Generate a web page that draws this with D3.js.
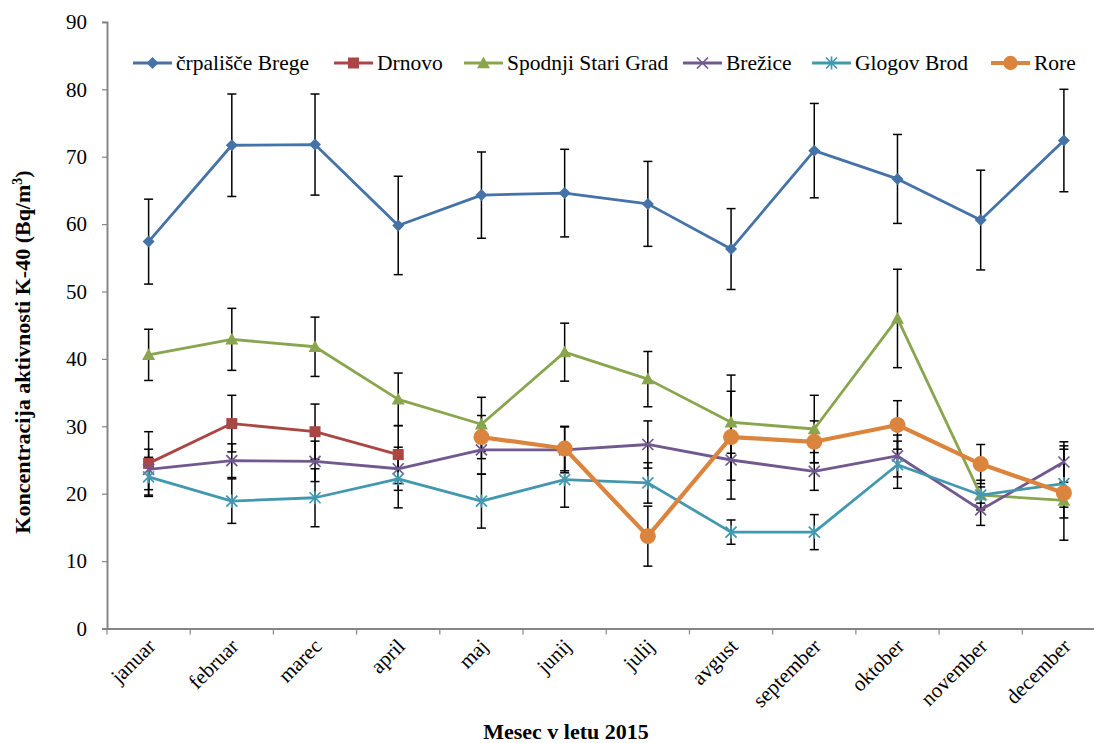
<!DOCTYPE html>
<html>
<head>
<meta charset="utf-8">
<script src="https://cdn.jsdelivr.net/npm/d3@7"></script>
<style>
  body { margin: 0; background: #fff; }
  svg { display: block; font-family: "Liberation Serif", "Times New Roman", serif; }
</style>
</head>
<body>
<svg id="chart" width="1094" height="743"></svg>
<script>
const months = ["januar","februar","marec","april","maj","junij","julij","avgust","september","oktober","november","december"];
const yTicks = [0,10,20,30,40,50,60,70,80,90];

const bregeVal = [57.4,71.7,71.8,59.8,64.3,64.6,63.0,56.3,70.9,66.7,60.6,72.4];
const bregeErr = [6.3,7.6,7.5,7.3,6.4,6.5,6.3,6.0,7.0,6.6,7.4,7.6];
const drnovoVal = [24.5,30.4,29.2,25.8,null,null,null,null,null,null,null,null];
const drnovoErr = [4.7,4.2,4.1,4.3,null,null,null,null,null,null,null,null];
const ssgVal = [40.6,42.9,41.8,34.0,30.3,41.0,37.0,30.6,29.6,46.0,19.8,19.0];
const ssgErr = [3.8,4.6,4.4,3.9,4.0,4.3,4.1,4.6,5.0,7.3,1.2,1.0];
const brezVal = [23.6,24.9,24.8,23.7,26.5,26.5,27.3,25.0,23.3,25.6,17.6,24.7];
const brezErr = [3.0,2.5,3.0,3.2,3.6,3.4,3.5,3.0,2.8,3.1,2.3,3.0];
const glogVal = [22.5,18.9,19.4,22.2,18.9,22.1,21.6,14.3,14.3,24.3,19.8,21.5];
const glogErr = [2.9,3.3,4.3,4.3,4.0,4.1,3.0,1.8,2.6,3.5,2.2,5.1];
const roreVal = [null,null,null,null,28.4,26.7,13.7,28.4,27.7,30.2,24.4,20.1];
const roreErr = [null,null,null,null,3.2,3.3,4.45,9.2,3.1,3.6,2.9,7.0];

const series = [
  {name:"črpališče Brege", vals:bregeVal, errs:bregeErr, color:"#4572A7", marker:"diamond", width:2.8},
  {name:"Drnovo", vals:drnovoVal, errs:drnovoErr, color:"#AA4643", marker:"square", width:2.8},
  {name:"Spodnji Stari Grad", vals:ssgVal, errs:ssgErr, color:"#89A54E", marker:"triangle", width:2.8},
  {name:"Brežice", vals:brezVal, errs:brezErr, color:"#71588F", marker:"x", width:2.8},
  {name:"Glogov Brod", vals:glogVal, errs:glogErr, color:"#4198AF", marker:"star", width:2.8},
  {name:"Rore", vals:roreVal, errs:roreErr, color:"#DB843D", marker:"circle", width:4.2}
];

const svg = d3.select("#chart");
const pLeft = 107, pRight = 1105.5, pTop = 21.9, pBottom = 628.5;
const x = d3.scaleBand().domain(months).range([pLeft, pRight]);
const y = d3.scaleLinear().domain([0, 90]).range([pBottom, pTop]);
const cx = m => x(m) + x.bandwidth() / 2;
const axisColor = "#868686";

// Y axis
const yAxis = svg.append("g").attr("transform", `translate(${pLeft},0)`)
  .call(d3.axisLeft(y).tickValues(yTicks).tickSize(5).tickPadding(15).tickFormat(d3.format("d")));
yAxis.select(".domain").attr("stroke", axisColor).attr("stroke-width", 2);
yAxis.selectAll(".tick line").attr("stroke", axisColor).attr("stroke-width", 1.2);
yAxis.selectAll(".tick text").attr("font-size", 21).attr("fill", "#000")
  .attr("font-family", "Liberation Serif");

// X axis
const xAxis = svg.append("g").attr("transform", `translate(0,${pBottom})`)
  .call(d3.axisBottom(x).tickSize(0).tickFormat(() => ""));
xAxis.select(".domain").attr("stroke", axisColor).attr("stroke-width", 2);
const bounds = months.map(m => x(m)).concat([x.range()[1]]);
xAxis.selectAll(".bound").data(bounds).enter().append("line")
  .attr("x1", d => d).attr("x2", d => d).attr("y1", 0).attr("y2", 6)
  .attr("stroke", axisColor).attr("stroke-width", 1.2);
svg.append("g").selectAll("text").data(months).enter().append("text")
  .attr("transform", d => `translate(${cx(d) + 8},${pBottom + 19}) rotate(-45)`)
  .attr("text-anchor", "end")
  .attr("font-size", 21)
  .text(d => d);

// Axis titles
svg.append("text").attr("x", 566).attr("y", 739).attr("text-anchor", "middle")
  .attr("font-size", 22).attr("font-weight", "bold").text("Mesec v letu 2015");
const yt = svg.append("text").attr("transform", "translate(30,352) rotate(-90)")
  .attr("text-anchor", "middle").attr("font-size", 22).attr("font-weight", "bold");
yt.append("tspan").text("Koncentracija aktivnosti K-40 (Bq/m");
yt.append("tspan").attr("dy", -8).attr("font-size", 14).text("3");
yt.append("tspan").attr("dy", 8).text(")");

// Error bars
const errG = svg.append("g");
series.forEach(s => {
  months.forEach((m, i) => {
    const v = s.vals[i], e = s.errs[i];
    if (v == null || e == null) return;
    const xc = cx(m);
    errG.append("line").attr("x1", xc).attr("x2", xc).attr("y1", y(v - e)).attr("y2", y(v + e))
      .attr("stroke", "#000").attr("stroke-width", 1.5);
    [v - e, v + e].forEach(b => errG.append("line").attr("x1", xc - 4.5).attr("x2", xc + 4.5)
      .attr("y1", y(b)).attr("y2", y(b)).attr("stroke", "#000").attr("stroke-width", 1.5));
  });
});

function drawMarker(g, type, px, py, color, scale) {
  const k = scale || 1;
  if (type === "diamond") {
    const r = 6 * k;
    g.append("path").attr("d", `M${px},${py - r}L${px + r},${py}L${px},${py + r}L${px - r},${py}Z`).attr("fill", color);
  } else if (type === "square") {
    const r = 5.5 * k;
    g.append("rect").attr("x", px - r).attr("y", py - r).attr("width", 2 * r).attr("height", 2 * r).attr("fill", color);
  } else if (type === "triangle") {
    const r = 6.5 * k;
    g.append("path").attr("d", `M${px},${py - r}L${px + r},${py + r * 0.8}L${px - r},${py + r * 0.8}Z`).attr("fill", color);
  } else if (type === "x") {
    const r = 5.5 * k;
    g.append("path").attr("d", `M${px - r},${py - r}L${px + r},${py + r}M${px - r},${py + r}L${px + r},${py - r}`)
      .attr("stroke", color).attr("stroke-width", 1.7);
  } else if (type === "star") {
    const r = 5.5 * k;
    g.append("path").attr("d", `M${px - r},${py - r}L${px + r},${py + r}M${px - r},${py + r}L${px + r},${py - r}M${px},${py - r * 1.2}L${px},${py + r * 1.2}`)
      .attr("stroke", color).attr("stroke-width", 1.7);
  } else if (type === "circle") {
    g.append("circle").attr("cx", px).attr("cy", py).attr("r", 8 * k).attr("fill", color);
  }
}

// Lines and markers
series.forEach(s => {
  const g = svg.append("g");
  const pts = months.map((m, i) => ({m, v: s.vals[i]}));
  const line = d3.line().defined(d => d.v != null).x(d => cx(d.m)).y(d => y(d.v));
  g.append("path").datum(pts).attr("d", line).attr("fill", "none")
    .attr("stroke", s.color).attr("stroke-width", s.width).attr("stroke-linejoin", "round");
  pts.forEach(d => { if (d.v != null) drawMarker(g, s.marker, cx(d.m), y(d.v), s.color); });
});

// Legend
const legendTextX = [176, 377, 507, 726, 855, 1034];
const lg = svg.append("g");
series.forEach((s, i) => {
  const tx = legendTextX[i], ly = 63;
  lg.append("line").attr("x1", tx - 43).attr("x2", tx - 4).attr("y1", ly).attr("y2", ly)
    .attr("stroke", s.color).attr("stroke-width", s.width);
  drawMarker(lg, s.marker, tx - 23.5, ly, s.color, s.marker === "circle" ? 0.9 : 1);
  lg.append("text").attr("x", tx).attr("y", ly + 7).attr("font-size", 21.5).text(s.name);
});
</script>
</body>
</html>
